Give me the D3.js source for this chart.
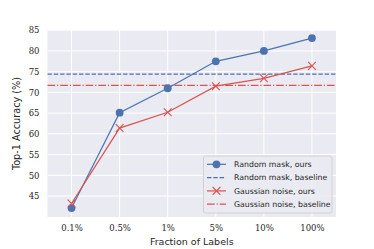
<!DOCTYPE html>
<html><head><meta charset="utf-8">
<script src="https://cdn.jsdelivr.net/npm/d3@7"></script>
<style>body{margin:0;background:#fff}svg{display:block}</style>
</head><body>
<script>
const categories = ["0.1%","0.5%","1%","5%","10%","100%"];
const randomMaskOurs = [42.1, 65.1, 71.0, 77.5, 80.0, 83.1];
const gaussianNoiseOurs = [43.2, 61.4, 65.2, 71.5, 73.4, 76.4];
const randomMaskBaseline = 74.4;
const gaussianNoiseBaseline = 71.7;
const yTicks = [45,50,55,60,65,70,75,80,85];
const legendLabels = ["Random mask, ours","Random mask, baseline","Gaussian noise, ours","Gaussian noise, baseline"];

const W=374,H=249;
const m={l:47.5,r:38,t:30,b:32};
const svg=d3.select("body").append("svg").attr("width",W).attr("height",H);
const x=d3.scaleLinear().domain([-0.5,5.5]).range([m.l,W-m.r]);
const y=d3.scaleLinear().domain([39.95,85.05]).range([H-m.b,m.t]);
const blue="#4c72b0", red="#d9534f";
const tickFont="'DejaVu Serif', serif", labFont="'DejaVu Sans', sans-serif";

svg.append("rect").attr("x",x(-0.5)).attr("y",y(85.05)).attr("width",x(5.5)-x(-0.5)).attr("height",y(39.95)-y(85.05)).attr("fill","#eaeaf2");

const g=svg.append("g");
g.selectAll(".hg").data(yTicks).join("line").attr("x1",x(-0.5)).attr("x2",x(5.5)).attr("y1",d=>y(d)).attr("y2",d=>y(d)).attr("stroke","#fff").attr("stroke-width",1);
g.selectAll(".vg").data(categories).join("line").attr("x1",(d,i)=>x(i)).attr("x2",(d,i)=>x(i)).attr("y1",y(39.95)).attr("y2",y(85.05)).attr("stroke","#fff").attr("stroke-width",1);

const ax=d3.axisBottom(x).tickValues(d3.range(categories.length)).tickFormat(i=>categories[i]).tickSize(0).tickPadding(8);
const axg=svg.append("g").attr("transform",`translate(0,${H-m.b})`).call(ax);
axg.select(".domain").remove();
axg.selectAll("text").attr("font-family",tickFont).attr("font-size",8.5).attr("fill","#262626");
const ay=d3.axisLeft(y).tickValues(yTicks).tickSize(0).tickPadding(8);
const ayg=svg.append("g").attr("transform",`translate(${m.l},0)`).call(ay);
ayg.select(".domain").remove();
ayg.selectAll("text").attr("font-family",tickFont).attr("font-size",8.5).attr("fill","#262626");

svg.append("text").attr("x",(x(-0.5)+x(5.5))/2).attr("y",245).attr("text-anchor","middle").attr("font-family",labFont).attr("font-size",9.5).attr("fill","#262626").text("Fraction of Labels");
svg.append("text").attr("transform",`translate(20,${(y(39.95)+y(85.05))/2}) rotate(-90)`).attr("text-anchor","middle").attr("font-family",labFont).attr("font-size",9.7).attr("fill","#262626").text("Top-1 Accuracy (%)");

// baselines
svg.append("line").attr("x1",x(-0.5)).attr("x2",x(5.5)).attr("y1",y(randomMaskBaseline)).attr("y2",y(randomMaskBaseline)).attr("stroke",blue).attr("stroke-width",1.2).attr("stroke-dasharray","4.4,1.9");
svg.append("line").attr("x1",x(-0.5)).attr("x2",x(5.5)).attr("y1",y(gaussianNoiseBaseline)).attr("y2",y(gaussianNoiseBaseline)).attr("stroke",red).attr("stroke-width",1.2).attr("stroke-dasharray","7.7,1.9,1.2,1.9");

const line=d3.line().x((d,i)=>x(i)).y(d=>y(d));
svg.append("path").datum(randomMaskOurs).attr("d",line).attr("fill","none").attr("stroke",blue).attr("stroke-width",1.2);
svg.selectAll(".bm").data(randomMaskOurs).join("circle").attr("cx",(d,i)=>x(i)).attr("cy",d=>y(d)).attr("r",3.9).attr("fill",blue);
svg.append("path").datum(gaussianNoiseOurs).attr("d",line).attr("fill","none").attr("stroke",red).attr("stroke-width",1.2);
const xs=3.9;
svg.selectAll(".rm").data(gaussianNoiseOurs).join("path").attr("d",(d,i)=>`M${x(i)-xs},${y(d)-xs}L${x(i)+xs},${y(d)+xs}M${x(i)-xs},${y(d)+xs}L${x(i)+xs},${y(d)-xs}`).attr("stroke",red).attr("stroke-width",1.1).attr("fill","none");

// legend
const lg=svg.append("g");
lg.append("rect").attr("x",203.5).attr("y",156).attr("width",128.5).attr("height",57).attr("rx",2).attr("fill","#eaeaf2").attr("fill-opacity",0.85).attr("stroke","#cccccc").attr("stroke-width",0.8);
const rowY=[164.3,177.6,190.9,204.2];
const lx1=207,lx2=226,lc=216.5;
legendLabels.forEach((t,i)=>{
  const yy=rowY[i];
  const col=i<2?blue:red;
  const ln=lg.append("line").attr("x1",lx1).attr("x2",lx2).attr("y1",yy).attr("y2",yy).attr("stroke",col).attr("stroke-width",1.2);
  if(i===1) ln.attr("stroke-dasharray","4.4,1.9");
  if(i===3) ln.attr("stroke-dasharray","7.7,1.9,1.2,1.9");
  if(i===0) lg.append("circle").attr("cx",lc).attr("cy",yy).attr("r",3.9).attr("fill",blue);
  if(i===2) lg.append("path").attr("d",`M${lc-xs},${yy-xs}L${lc+xs},${yy+xs}M${lc-xs},${yy+xs}L${lc+xs},${yy-xs}`).attr("stroke",red).attr("stroke-width",1.1);
  lg.append("text").attr("x",234).attr("y",yy).attr("dy","0.35em").attr("font-family",labFont).attr("font-size",7.8).attr("fill","#262626").text(t);
});
</script>
</body></html>
